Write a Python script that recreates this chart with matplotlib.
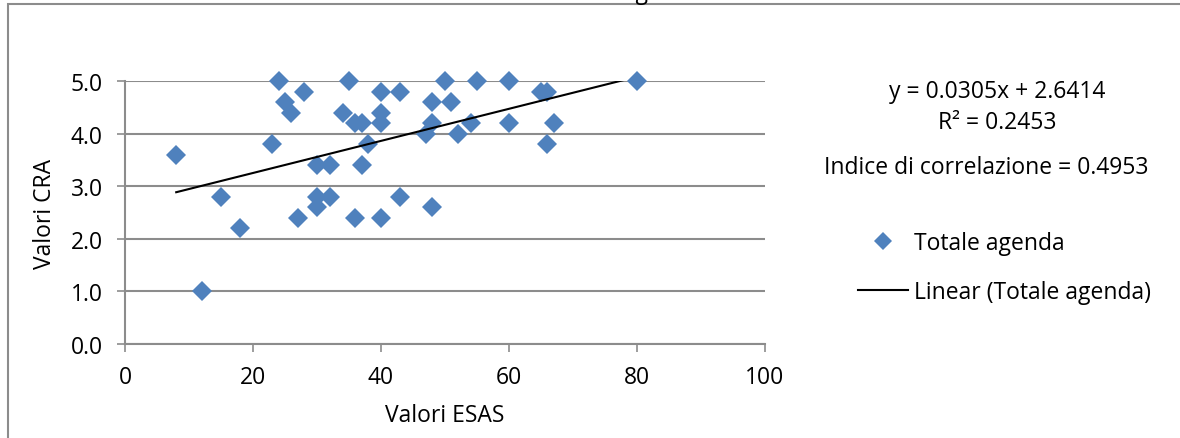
import numpy as np
import matplotlib
matplotlib.use("Agg")
import matplotlib.pyplot as plt
from matplotlib.lines import Line2D
from matplotlib.patches import Rectangle

# dati (ESAS, CRA)
esas = [8, 12, 15, 18, 23, 24, 25, 26, 27, 28, 30, 30, 30, 32, 32, 34, 35,
        36, 36, 37, 37, 38, 40, 40, 40, 40, 43, 43, 47, 48, 48, 48, 50, 51,
        52, 54, 55, 60, 60, 65, 66, 66, 67, 80]
cra = [3.6, 1.0, 2.8, 2.2, 3.8, 5.0, 4.6, 4.4, 2.4, 4.8, 3.4, 2.8, 2.6, 3.4,
       2.8, 4.4, 5.0, 4.2, 2.4, 4.2, 3.4, 3.8, 4.8, 4.4, 4.2, 2.4, 4.8, 2.8,
       4.0, 4.6, 4.2, 2.6, 5.0, 4.6, 4.0, 4.2, 5.0, 5.0, 4.2, 4.8, 4.8, 3.8,
       4.2, 5.0]

# retta di tendenza
pendenza = 0.0305
intercetta = 2.6414
r2 = 0.2453
indice_corr = 0.4953

serie = "Totale agenda"

plt.rcParams['font.family'] = ['Open Sans', 'DejaVu Sans']
fs = 16.5
fs_tick = 16.5
blu = '#4F81BD'
grigio = '#8C8C8C'

fig = plt.figure(figsize=(11.8, 4.39), dpi=100)
ax = fig.add_axes([125 / 1180, 1 - 345 / 439, 640 / 1180, 263 / 439])

# cornice del grafico
fig.patches.append(Rectangle((8 / 1180, -0.1), 1.2, 1 - 4.5 / 439 + 0.1,
                             transform=fig.transFigure, fill=False,
                             edgecolor=grigio, linewidth=1.5))

# titolo (tagliato in alto)
fig.text(626 / 1180, 1 + 1 / 439, serie, fontsize=fs, ha='center',
         va='baseline')

# griglia
ax.set_xlim(0, 100)
ax.set_ylim(0, 5)
ax.set_yticks(np.arange(0, 5.1, 1.0))
ax.set_xticks(np.arange(0, 101, 20))
ax.yaxis.set_major_formatter(matplotlib.ticker.FormatStrFormatter('%.1f'))
ax.grid(axis='y', color=grigio, linewidth=1.5)
ax.set_axisbelow(True)
for s in ['top', 'right']:
    ax.spines[s].set_visible(False)
for s in ['left', 'bottom']:
    ax.spines[s].set_color(grigio)
    ax.spines[s].set_linewidth(1.5)
ax.tick_params(axis='both', direction='out', length=6, width=1.2,
               color=grigio, labelsize=fs_tick)
ax.tick_params(axis='x', pad=9)
ax.tick_params(axis='y', pad=10)

# punti
ax.plot(esas, cra, linestyle='none', marker='D', markersize=10.5,
        color=blu, markeredgewidth=0, clip_on=False, zorder=3)

# linea di tendenza
xt = np.array([min(esas), max(esas)])
yt = pendenza * xt + intercetta
ax.plot(xt, yt, color='black', linewidth=1.5, zorder=4)

ax.set_xlabel('Valori ESAS', fontsize=fs, labelpad=10)
ax.set_ylabel('Valori CRA', fontsize=fs, labelpad=10)

# equazione e indici
fig.text(997 / 1180, 1 - 92 / 439, f'y = {pendenza}x + {intercetta}',
         fontsize=fs, ha='center', va='center')
fig.text(997 / 1180, 1 - 123 / 439, f'R² = {r2}',
         fontsize=fs, ha='center', va='center')
fig.text(986 / 1180, 1 - 168 / 439,
         f'Indice di correlazione = {indice_corr}',
         fontsize=fs, ha='center', va='center')

# legenda
maniglie = [
    Line2D([], [], linestyle='none', marker='D', markersize=9.5, color=blu,
           markeredgewidth=0),
    Line2D([], [], color='black', linewidth=1.5),
]
fig.legend(maniglie, [serie, f'Linear ({serie})'], loc='upper left',
           bbox_to_anchor=(858 / 1180, 1 - 232 / 439), frameon=False,
           fontsize=fs, handlelength=2.2, handletextpad=0.25,
           labelspacing=1.1, borderpad=0, borderaxespad=0)

fig.savefig('out.png', dpi=100)
